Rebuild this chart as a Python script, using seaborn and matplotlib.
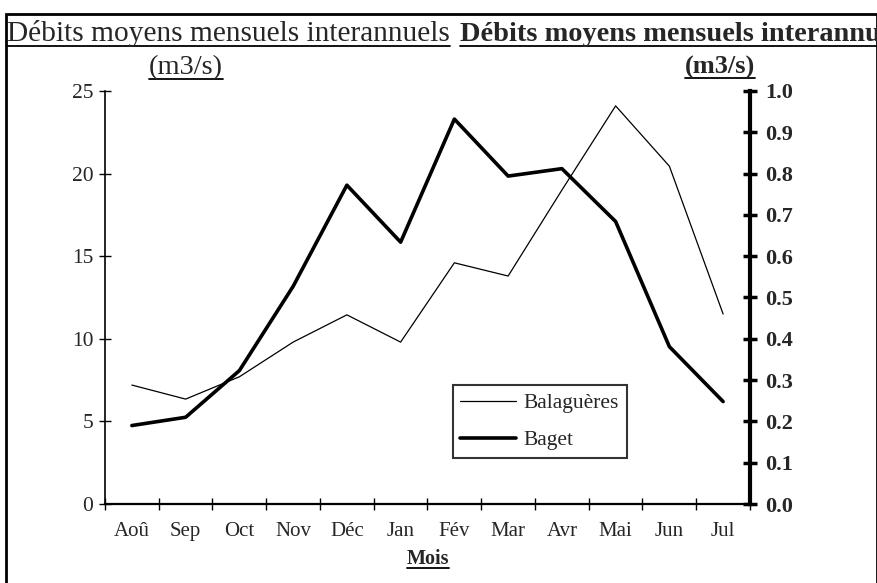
import numpy as np
import pandas as pd
import matplotlib
matplotlib.use("Agg")
import matplotlib.pyplot as plt
from matplotlib.lines import Line2D
from matplotlib.patches import Rectangle
from matplotlib.ticker import FixedLocator
import seaborn as sns

# Monthly mean discharge (hydrological year Aug -> Jul)
mois = ["Aoû", "Sep", "Oct", "Nov", "Déc", "Jan", "Fév", "Mar", "Avr", "Mai", "Jun", "Jul"]
balagueres = [7.2, 6.35, 7.7, 9.8, 11.45, 9.8, 14.6, 13.8, 19.0, 24.1, 20.45, 11.5]   # m3/s, left axis
baget = [0.19, 0.21, 0.323, 0.527, 0.772, 0.634, 0.932, 0.794, 0.812, 0.684, 0.381, 0.248]  # m3/s, right axis

left_ticks = [0, 5, 10, 15, 20, 25]
right_ticks = [0.0, 0.1, 0.2, 0.3, 0.4, 0.5, 0.6, 0.7, 0.8, 0.9, 1.0]

df = pd.DataFrame({"Mois": mois, "Balaguères": balagueres, "Baget": baget})
df["pos"] = np.arange(len(mois))

sns.set_theme(style="white")
plt.rcParams["font.family"] = ["Liberation Serif", "DejaVu Serif"]

W, H = 878, 583
fig = plt.figure(figsize=(W / 100, H / 100), dpi=100)
ax = fig.add_axes([105 / W, 1 - 504 / H, (750 - 105) / W, (504 - 91) / H])
ax2 = ax.twinx()

sns.lineplot(data=df, x="pos", y="Balaguères", ax=ax, color="black", linewidth=0.9,
             sort=False, label="Balaguères", legend=False)
sns.lineplot(data=df, x="pos", y="Baget", ax=ax2, color="black", linewidth=2.6,
             sort=False, label="Baget", legend=False)

ax.set_xlim(-0.5, len(mois) - 0.5)
ax.set_ylim(0, 25)
ax2.set_ylim(0, 1.0)

# x axis: month names centred in each slot, ticks on slot boundaries
ax.set_xticks(df["pos"])
ax.set_xticklabels(mois, fontsize=15)
ax.xaxis.set_minor_locator(FixedLocator(np.arange(-0.5, len(mois), 1.0)))
ax.tick_params(axis="x", which="major", length=0, pad=13)
ax.tick_params(axis="x", which="minor", direction="inout", length=9, width=1, color="black", bottom=True)
ax.set_xlabel("")
ax.set_ylabel("")
ax2.set_ylabel("")

ax.set_yticks(left_ticks)
ax.set_yticklabels([str(t) for t in left_ticks], fontsize=15.5)
ax.tick_params(axis="y", direction="inout", length=9, width=1, color="black", left=True, pad=4)

ax2.set_yticks(right_ticks)
ax2.set_yticklabels([f"{t:.1f}" for t in right_ticks], fontsize=16, fontweight="bold")
ax2.tick_params(axis="y", direction="inout", length=10, width=2.5, color="black", right=True, pad=6)

for a in (ax, ax2):
    for s in a.spines.values():
        s.set_visible(False)
ax.spines["left"].set_visible(True)
ax.spines["left"].set_linewidth(1.2)
ax.spines["left"].set_color("black")
ax.spines["bottom"].set_visible(True)
ax.spines["bottom"].set_linewidth(1.6)
ax.spines["bottom"].set_color("black")
ax2.spines["right"].set_visible(True)
ax2.spines["right"].set_linewidth(3)
ax2.spines["right"].set_color("black")

# legend combining both axes
h1 = Line2D([], [], color="black", linewidth=0.9)
h2 = Line2D([], [], color="black", linewidth=2.6)
leg = ax2.legend([h1, h2], ["Balaguères", "Baget"], loc="upper left",
                 bbox_to_anchor=(0.539, 0.287), fontsize=15.5, frameon=True, fancybox=False,
                 handlelength=2.6, handletextpad=0.35, borderpad=0.35, labelspacing=0.8,
                 borderaxespad=0)
leg.get_frame().set_edgecolor("black")
leg.get_frame().set_linewidth(1.5)
leg.get_frame().set_facecolor("white")

# outer frame
fig.add_artist(Rectangle((6 / W, -0.05), (877 - 6) / W, 1.05 - 14 / H, transform=fig.transFigure,
                         fill=False, edgecolor="black", linewidth=2))

texts = []
texts.append(fig.text(7 / W, 1 - 41 / H, "Débits moyens mensuels interannuels", fontsize=21.2,
                      ha="left", va="baseline"))
texts.append(fig.text(186 / W, 1 - 74 / H, "(m3/s)", fontsize=20.5, ha="center", va="baseline"))
texts.append(fig.text(460 / W, 1 - 41 / H, "Débits moyens mensuels interannuels", fontsize=20.4,
                      fontweight="bold", ha="left", va="baseline"))
texts.append(fig.text(720 / W, 1 - 74 / H, "(m3/s)", fontsize=19, fontweight="bold",
                      ha="center", va="baseline"))
texts.append(fig.text(428 / W, 1 - 564 / H, "Mois", fontsize=14.5, fontweight="bold",
                      ha="center", va="baseline"))

fig.canvas.draw()
renderer = fig.canvas.get_renderer()
for t in texts:
    bb = t.get_window_extent(renderer)
    x1 = min(bb.x1, W)
    y = bb.y0 + 1.5
    fig.add_artist(Line2D([bb.x0 / W, x1 / W], [y / H, y / H], transform=fig.transFigure,
                          color="black", linewidth=1.3))

fig.savefig("out.png", dpi=100)
